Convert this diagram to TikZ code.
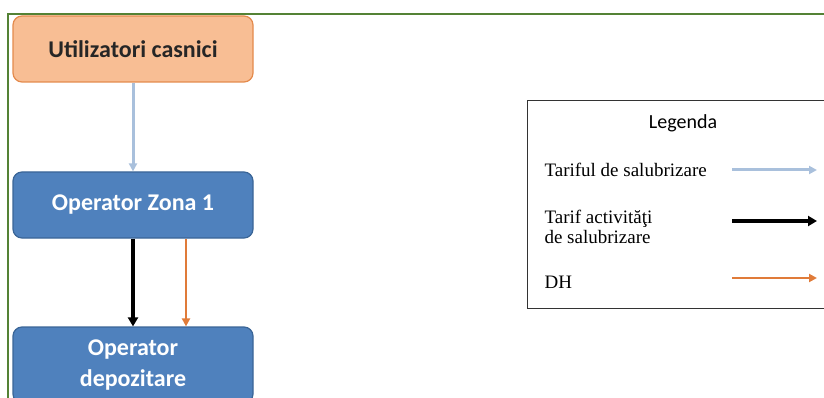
\documentclass[tikz,border=0pt]{standalone}
\usepackage{fontspec}
\setmainfont{Carlito}
\newfontfamily\legendfont{Liberation Serif}
\usetikzlibrary{arrows.meta}
\definecolor{framegreen}{HTML}{548235}
\definecolor{boxorange}{HTML}{F8BE94}
\definecolor{lineorange}{HTML}{E48A4C}
\definecolor{boxblue}{HTML}{4F81BD}
\definecolor{lineblue}{HTML}{3A6597}
\definecolor{tarifblue}{HTML}{A9C0DC}
\definecolor{dharrow}{HTML}{E07B39}
\tikzset{
  actor/.style={rounded corners=9pt, minimum width=240pt, minimum height=66pt, line width=1.2pt, align=center, font=\fontsize{24}{31}\selectfont\bfseries},
  tarif/.style={-{Triangle[length=8pt,width=8pt]}, tarifblue, line width=3pt},
  activ/.style={-{Triangle[length=9pt,width=10pt]}, black, line width=3.6pt},
  dh/.style={-{Triangle[length=8pt,width=8pt]}, dharrow, line width=2pt},
  item/.style={anchor=west, align=left, font=\legendfont\fontsize{19}{20}\selectfont}
}
\begin{document}
\begin{tikzpicture}[x=1pt, y=-1pt]
    \useasboundingbox (0,0) rectangle (824,398);
    % Frame
    \draw[framegreen, line width=2pt] (8,420) -- (8,14) -- (840,14);

    % Actors
    \node[actor, draw=lineorange, fill=boxorange, text=black!85] (U) at (133,49) {Utilizatori casnici};
    \node[actor, draw=lineblue, fill=boxblue, text=white] (Z1) at (133,205) {Operator Zona 1};
    \node[actor, draw=lineblue, fill=boxblue, text=white, minimum height=76pt] (D) at (133,365) {Operator\\depozitare};

    % Flows between actors
    \draw[tarif] (U) -- (Z1);
    \draw[activ] (Z1) -- (D);
    \draw[dh] (Z1.south -| 186,0) -- (D.north -| 186,0);

    % Legend
    \node[draw=black!80, line width=1.2pt, minimum width=320pt, minimum height=208pt, anchor=north west] (L) at (527,100) {};
    \node[font=\fontsize{20}{22}\selectfont] (Lt) at (683,123) {Legenda};
    \node[item] (L1) at (541,170) {Tariful de salubrizare};
    \node[item] (L2) at (541,227) {Tarif activităţi\\de salubrizare};
    \node[item] (L3) at (541,282) {DH};
    \foreach \n/\y/\s in {1/170/tarif, 2/221/activ, 3/278/dh} {
        \coordinate (A\n) at (732,\y);
        \coordinate (B\n) at (817,\y);
        \draw[\s] (A\n) -- (B\n);
    }
\end{tikzpicture}
\end{document}
